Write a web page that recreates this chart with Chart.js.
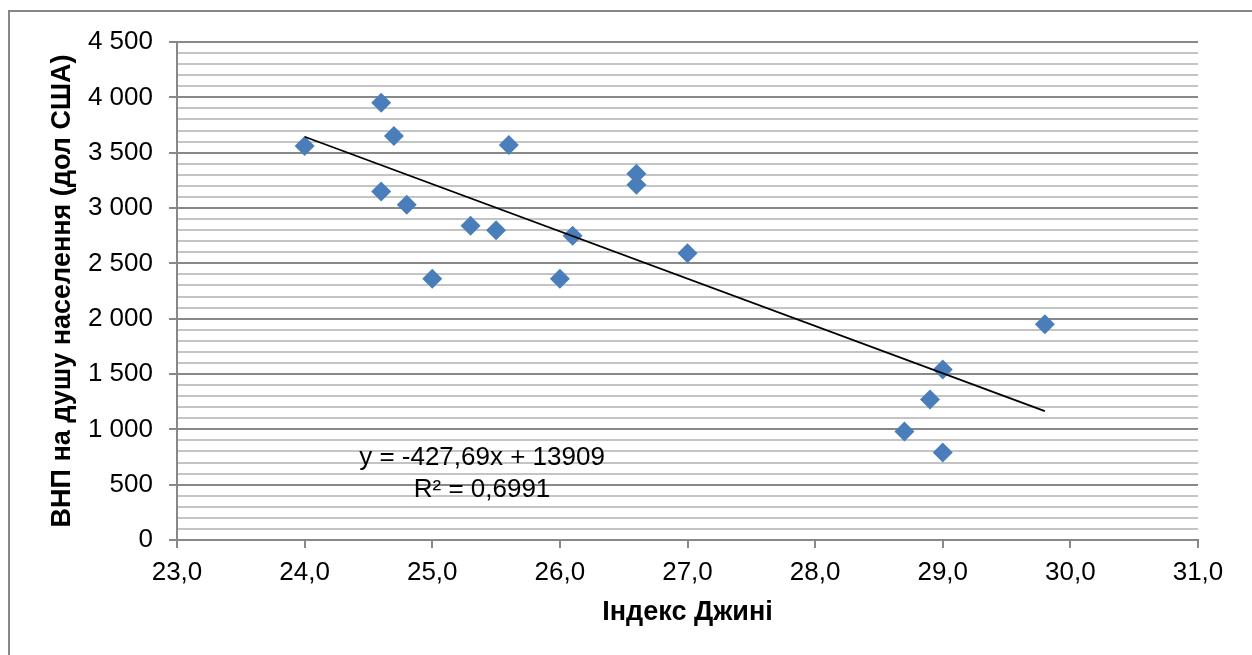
<!DOCTYPE html>
<html>
<head>
<meta charset="utf-8">
<script src="https://cdn.jsdelivr.net/npm/chart.js@4"></script>
<style>
  html, body { margin: 0; padding: 0; background: #fff; }
  canvas { display: block; }
</style>
</head>
<body>
<canvas id="myChart" width="1252" height="655"></canvas>
<script>
//Gini index values (x) and GNP per capita (y)
var giniX = [24.0, 24.6, 24.7, 24.6, 24.8, 25.0, 25.3, 25.5, 25.6, 26.0, 26.1, 26.6, 26.6, 27.0, 28.7, 28.9, 29.0, 29.0, 29.8];
var gnpY = [3560, 3950, 3650, 3150, 3030, 2360, 2840, 2800, 3570, 2360, 2750, 3310, 3210, 2590, 980, 1270, 1540, 790, 1950];
//trend line ends (as drawn)
var trendX = [24.0, 29.8];
var trendY = [3644, 1164];
//regression label
var eqLines = ['y = -427,69x + 13909', 'R\u00B2 = 0,6991'];
var eqX = 25.39;
var eqY = [744, 455];

var xTitle = 'Індекс Джині';
var yTitle = 'ВНП на душу населення (дол США)';

var FONT = '"Liberation Sans", Arial, sans-serif';

function fmtThousands(v) {
  return String(v).replace(/\B(?=(\d{3})+(?!\d))/g, ' ');
}

//gray frame round the chart (cut off at right and bottom)
var framePlugin = {
  id: 'frame',
  beforeDraw: function(chart) {
    var c = chart.ctx;
    c.save();
    c.strokeStyle = '#878787';
    c.lineWidth = 2;
    c.beginPath();
    c.moveTo(9, 700);
    c.lineTo(9, 11);
    c.lineTo(1300, 11);
    c.stroke();
    c.restore();
  }
};

//equation + R² text
var eqPlugin = {
  id: 'eqLabel',
  afterDatasetsDraw: function(chart) {
    var c = chart.ctx;
    var xs = chart.scales.x, ys = chart.scales.y;
    c.save();
    c.fillStyle = '#000';
    c.font = '26px ' + FONT;
    c.textAlign = 'center';
    c.textBaseline = 'middle';
    for (var i = 0; i < eqLines.length; i++) {
      c.fillText(eqLines[i], xs.getPixelForValue(eqX), ys.getPixelForValue(eqY[i]));
    }
    c.restore();
  }
};

var ctx = document.getElementById('myChart').getContext('2d');
var myChart = new Chart(ctx, {
  type: 'scatter',
  data: {
    datasets: [{
      label: 'trend',
      type: 'line',
      data: trendX.map(function(x, i) { return {x: x, y: trendY[i]}; }),
      borderColor: '#000',
      borderWidth: 1.8,
      pointRadius: 0,
      fill: false,
      order: 0
    },
    {
      label: 'points',
      data: giniX.map(function(x, i) { return {x: x, y: gnpY[i]}; }),
      pointStyle: 'rectRot',
      pointRadius: 10,
      backgroundColor: '#4A7EBB',
      borderWidth: 0,
      order: 1
    }]
  },
  options: {
    responsive: false,
    animation: false,
    layout: { padding: { left: 0, top: 42, right: 54, bottom: 0 } },
    scales: {
      x: {
        type: 'linear',
        min: 23,
        max: 31,
        afterFit: function(s) { s.height = 115; },
        ticks: {
          stepSize: 1,
          color: '#000',
          font: { family: FONT, size: 26 },
          padding: 9,
          callback: function(v) { return v.toFixed(1).replace('.', ','); }
        },
        grid: { drawOnChartArea: false, color: '#888', lineWidth: 2, tickLength: 8 },
        border: { color: '#888', width: 2 },
        title: {
          display: true,
          text: xTitle,
          color: '#000',
          font: { family: FONT, size: 27, weight: 'bold' },
          padding: { bottom: 26 }
        }
      },
      y: {
        min: 0,
        max: 4500,
        afterFit: function(s) { s.width = 177; },
        ticks: {
          stepSize: 100,
          autoSkip: false,
          color: '#000',
          font: { family: FONT, size: 26 },
          padding: 16,
          callback: function(v) { return v % 500 === 0 ? fmtThousands(v) : ''; }
        },
        grid: {
          lineWidth: 2,
          tickLength: 8,
          color: function(c) { return c.tick && c.tick.value % 500 === 0 ? '#888888' : '#c4c4c4'; },
          tickColor: function(c) { return c.tick && c.tick.value % 500 === 0 ? '#888888' : 'rgba(0,0,0,0)'; }
        },
        border: { color: '#888', width: 2 },
        title: {
          display: true,
          text: yTitle,
          color: '#000',
          font: { family: FONT, size: 27, weight: 'bold' },
          padding: { top: 46 }
        }
      }
    },
    plugins: {
      legend: { display: false },
      tooltip: { enabled: false }
    }
  },
  plugins: [framePlugin, eqPlugin]
});
</script>
</body>
</html>
